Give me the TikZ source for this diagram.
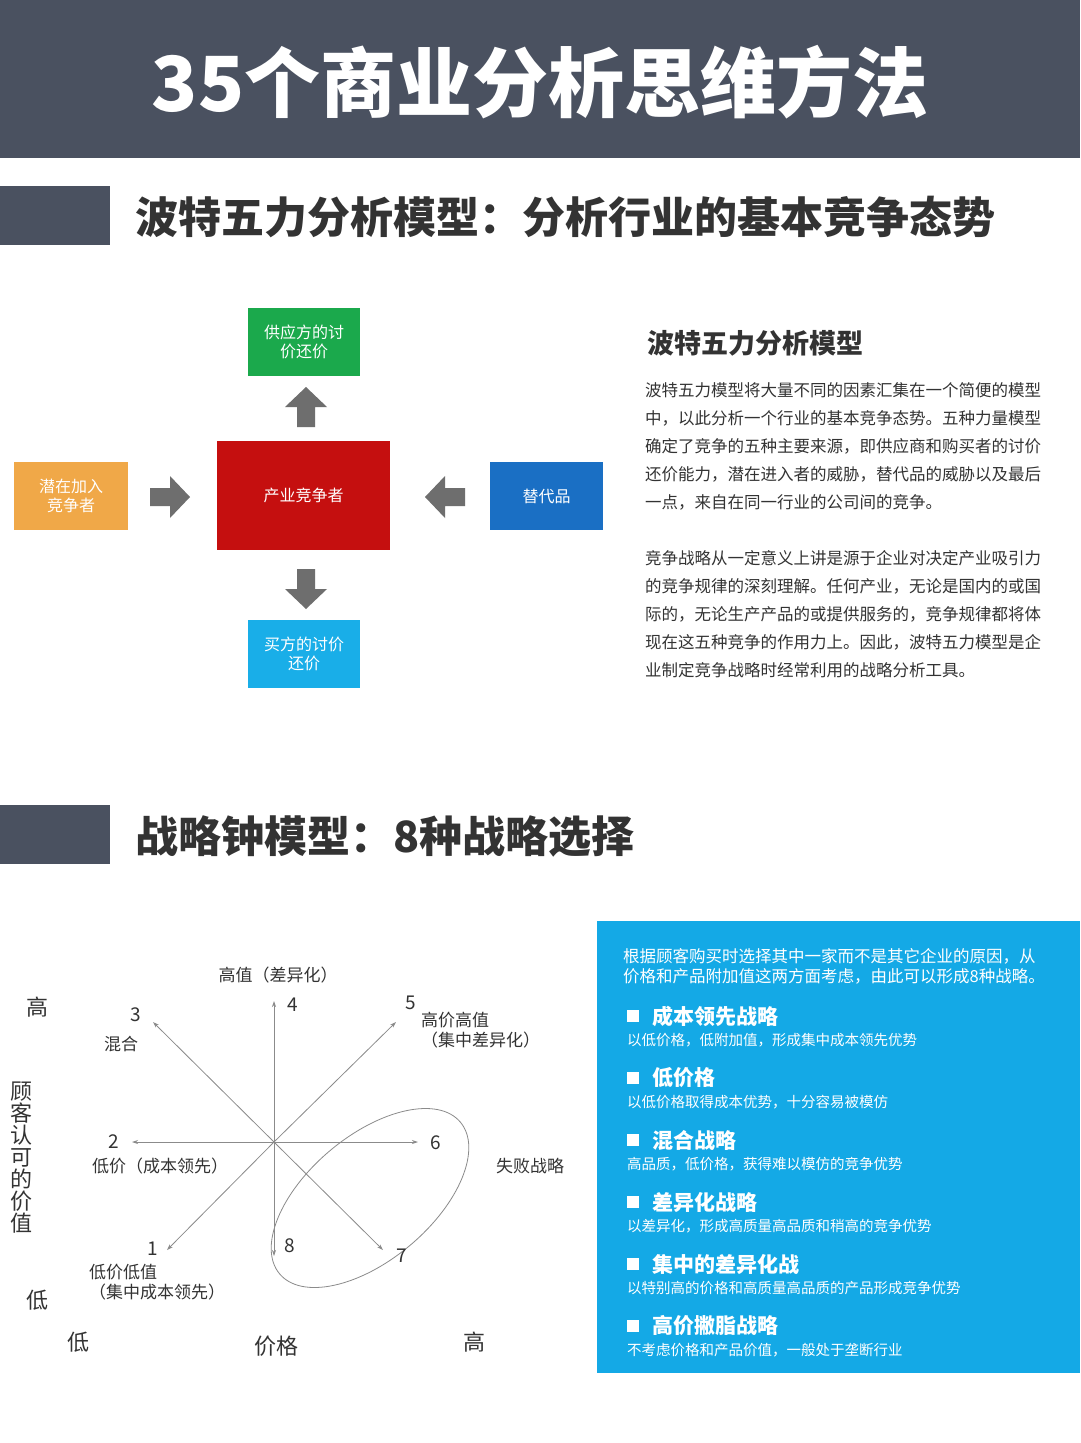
\documentclass[tikz,border=0pt]{standalone}
\usepackage{fontspec}
\setmainfont{Noto Sans CJK SC}
\usetikzlibrary{arrows.meta}
\definecolor{slate}{HTML}{4A5160}
\definecolor{txt}{HTML}{333333}
\definecolor{agray}{HTML}{6E6E6E}
\definecolor{cgreen}{HTML}{1BA94C}
\definecolor{cred}{HTML}{C50F0F}
\definecolor{corange}{HTML}{F0A848}
\definecolor{cblue}{HTML}{1A6FC4}
\definecolor{ccyan}{HTML}{19AEE8}
\definecolor{panel}{HTML}{14A9E6}
\newcommand\fatarrow[3]{\fill[agray,shift={(#1,#2)},rotate=#3] (-20,-9) -- (0,-9) -- (0,-21) -- (20,0) -- (0,21) -- (0,9) -- (-20,9) -- cycle;}
\tikzset{
 box/.style={minimum width=113pt,minimum height=68pt,inner sep=0,text=white,font=\fontsize{16}{19}\selectfont,align=center},
 para/.style={anchor=west,inner sep=0,text=txt,font=\fontsize{16.5}{20}\selectfont},
 lab/.style={inner sep=0,text=txt,font=\fontsize{17}{20}\selectfont,align=left},
 axl/.style={inner sep=0,text=txt,font=\fontsize{22}{26}\selectfont},
 thin/.style={draw=agray!80,line width=0.8pt,-{Stealth[length=6pt,width=4pt]}},
 ptitle/.style={anchor=west,inner sep=0,text=white,font=\fontsize{21}{24}\selectfont\bfseries},
 psub/.style={anchor=west,inner sep=0,text=white,font=\fontsize{14.5}{17}\selectfont},
}
\begin{document}
\begin{tikzpicture}[x=1pt,y=-1pt]
\useasboundingbox (0,0) rectangle (1080,1443);
\fill[white] (0,0) rectangle (1080,1443);
% header
\fill[slate] (0,0) rectangle (1080,158);
\node[text=white,font=\fontsize{76}{80}\selectfont\bfseries] (title) at (540,82) {35个商业分析思维方法};
% section 1
\fill[slate] (0,186) rectangle (110,245);
\node[anchor=west,text=txt,font=\fontsize{43}{48}\selectfont\bfseries,inner sep=0] (h1) at (135,217) {波特五力分析模型：分析行业的基本竞争态势};
% five forces
\node[box,fill=cgreen,minimum width=112pt] (sup) at (304,342) {供应方的讨\\价还价};
\node[box,fill=cred,minimum width=173pt,minimum height=109pt] (ind) at (303.5,495.5) {产业竞争者};
\node[box,fill=corange,minimum width=114pt] (pot) at (71,496) {潜在加入\\竞争者};
\node[box,fill=cblue] (sub) at (546.5,496) {替代品};
\node[box,fill=ccyan,minimum width=112pt] (buy) at (304,654) {买方的讨价\\还价};
\fatarrow{306}{407}{90}
\fatarrow{170}{497}{0}
\fatarrow{445}{497}{180}
\fatarrow{306}{589}{-90}
\node[anchor=west,inner sep=0,text=txt,font=\fontsize{27}{30}\selectfont\bfseries] (h1r) at (647,343) {波特五力分析模型};
\node[para] at (645,390) {波特五力模型将大量不同的因素汇集在一个简便的模型};
\node[para] at (645,418) {中，以此分析一个行业的基本竞争态势。五种力量模型};
\node[para] at (645,446) {确定了竞争的五种主要来源，即供应商和购买者的讨价};
\node[para] at (645,474) {还价能力，潜在进入者的威胁，替代品的威胁以及最后};
\node[para] at (645,502) {一点，来自在同一行业的公司间的竞争。};
\node[para] at (645,558) {竞争战略从一定意义上讲是源于企业对决定产业吸引力};
\node[para] at (645,586) {的竞争规律的深刻理解。任何产业，无论是国内的或国};
\node[para] at (645,614) {际的，无论生产产品的或提供服务的，竞争规律都将体};
\node[para] at (645,642) {现在这五种竞争的作用力上。因此，波特五力模型是企};
\node[para] at (645,670) {业制定竞争战略时经常利用的战略分析工具。};
% section 2
\fill[slate] (0,805) rectangle (110,864);
\node[anchor=west,text=txt,font=\fontsize{43}{48}\selectfont\bfseries,inner sep=0] (h2) at (135,836) {战略钟模型：8种战略选择};
% clock
\coordinate (c) at (274,1142);
\coordinate (p4) at (274,1001);
\coordinate (p8) at (274,1256);
\coordinate (p2) at (132,1142);
\coordinate (p6) at (418,1142);
\coordinate (p3) at (153,1022);
\coordinate (p7) at (383,1250);
\coordinate (p5) at (396,1022);
\coordinate (p1) at (167,1250);
\foreach \p in {p4,p8,p2,p6,p3,p7,p5,p1} \draw[thin] (c) -- (\p);
\draw[agray!80,line width=0.8pt,rotate around={40:(370,1198)}] (370,1198) ellipse (118pt and 62pt);
\node[lab] at (278,975) {高值（差异化）};
\node[lab,font=\fontsize{19}{22}\selectfont] at (293,1005) {4};
\node[lab,font=\fontsize{19}{22}\selectfont] at (136,1015) {3};
\node[lab] at (121,1044) {混合};
\node[lab,font=\fontsize{19}{22}\selectfont] at (411,1003) {5};
\node[lab,anchor=north west] at (421,1012) {高价高值\\（集中差异化）};
\node[lab,font=\fontsize{19}{22}\selectfont] at (114,1142) {2};
\node[lab] at (160,1166) {低价（成本领先）};
\node[lab,font=\fontsize{19}{22}\selectfont] at (436,1143) {6};
\node[lab] at (530,1166) {失败战略};
\node[lab,font=\fontsize{19}{22}\selectfont] at (153,1249) {1};
\node[lab,anchor=north west] at (89,1264) {低价低值\\（集中成本领先）};
\node[lab,font=\fontsize{19}{22}\selectfont] at (290,1246) {8};
\node[lab,font=\fontsize{19}{22}\selectfont] at (402,1256) {7};
\node[axl] at (38,1007) {高};
\node[axl] at (38,1300) {低};
\node[axl,align=center,font=\fontsize{22}{22}\selectfont] at (21,1158) {顾\\客\\认\\可\\的\\价\\值};
\node[axl] at (78,1342) {低};
\node[axl] at (276,1346) {价格};
\node[axl] at (474,1342) {高};
% panel
\fill[panel] (597,921) rectangle (1080,1373);
\node[psub,font=\fontsize{16.5}{19}\selectfont] at (623,956) {根据顾客购买时选择其中一家而不是其它企业的原因，从};
\node[psub,font=\fontsize{16.5}{19}\selectfont] at (623,976) {价格和产品附加值这两方面考虑，由此可以形成8种战略。};
\foreach \y/\t/\s in {1016/成本领先战略/以低价格，低附加值，形成集中成本领先优势,
 1078/低价格/以低价格取得成本优势，十分容易被模仿,
 1140/混合战略/高品质，低价格，获得难以模仿的竞争优势,
 1202/差异化战略/以差异化，形成高质量高品质和稍高的竞争优势,
 1264/集中的差异化战/以特别高的价格和高质量高品质的产品形成竞争优势,
 1326/高价撇脂战略/不考虑价格和产品价值，一般处于垄断行业}{
 \fill[white] (627,\y-6) rectangle (639,\y+6);
 \node[ptitle] at (652,\y) {\t};
 \node[psub] at (627,\y+24) {\s};
}
\end{tikzpicture}
\end{document}
